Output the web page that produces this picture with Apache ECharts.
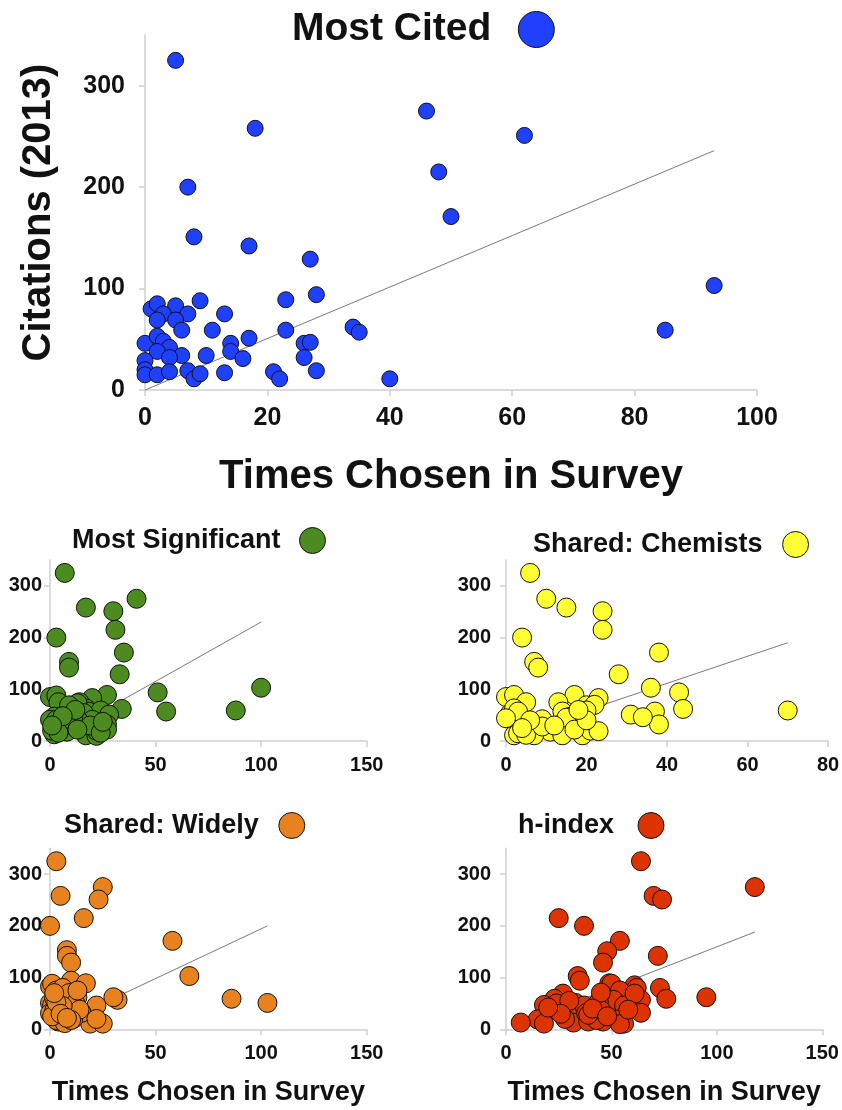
<!DOCTYPE html>
<html><head><meta charset="utf-8">
<script src="https://cdn.jsdelivr.net/npm/echarts@6/dist/echarts.min.js"></script>
<style>html,body{margin:0;padding:0;background:#fff}#c{width:842px;height:1110px}</style>
</head><body><div id="c"></div>
<script>
// ---- data: [times chosen in survey, citations (2013)] ----
const mostCitedPoints = [[5,325],[18,258],[46,275],[48,215],[50,171],[7,200],[8,151],[17,142],[27,129],[28,94],
[23,89],[9,88],[1,80],[2,85],[5,83],[7,75],[3,75],[2,69],[5,69],[13,75],[6,59],[11,59],[23,59],[17,51],[14,46],
[14,38],[0,46],[2,53],[3,48],[4,42],[2,38],[6,34],[4,32],[10,34],[16,31],[26,46],[27,47],[26,32],[34,62],[35,57],
[0,29],[0,20],[0,15],[2,15],[4,18],[7,19],[8,11],[9,16],[13,17],[21,18],[22,11],[28,19],[40,11],[62,251],[93,103],[85,59]];
const mostSignificantPoints = [[7,325],[41,275],[17,258],[30,251],[31,215],[3,200],[35,171],[9,153],[9,142],[33,129],
[100,103],[51,94],[55,57],[88,59],[34,62],[27,89],[20,83],[0,85],[3,88],[4,75],[14,75],[17,63],[18,57],[24,59],[28,51],
[27,32],[27,22],[17,47],[16,40],[10,33],[8,18],[2,47],[0,41],[3,41],[2,13],[17,11],[22,10],[22,20],[6,28],[8,54],
[13,73],[16,54],[20,41],[14,37],[5,37],[9,69],[1,20],[4,16],[11,46],[12,60],[6,48],[19,30],[24,16],[25,37],[13,22],[1,30]];
const sharedChemistsPoints = [[6,325],[10,275],[15,258],[24,251],[24,215],[4,200],[38,171],[7,153],[8,142],[28,129],
[36,103],[43,94],[44,62],[70,59],[37,57],[38,32],[31,51],[34,46],[17,89],[23,83],[20,69],[22,70],[20,59],[13,75],[14,57],
[16,47],[18,33],[14,34],[11,18],[14,11],[19,11],[21,20],[23,19],[9,42],[7,11],[0,85],[2,89],[5,75],[1,47],[2,48],
[5,34],[2,11],[3,15],[5,12],[1,53],[2,63],[3,57],[9,28],[15,45],[12,30],[17,22],[6,40],[0,44],[4,25],[20,40],[18,60]];
const sharedWidelyPoints = [[3,325],[25,275],[5,258],[23,251],[16,215],[0,200],[58,171],[8,153],[8,142],[10,129],
[66,103],[10,94],[17,89],[86,59],[103,51],[32,57],[30,62],[22,46],[19,11],[25,11],[15,32],[13,62],[10,59],[0,83],[1,88],
[3,75],[5,74],[0,51],[1,47],[0,31],[4,15],[6,25],[8,37],[9,32],[12,44],[7,53],[5,64],[2,36],[3,18],[6,80],
[2,60],[4,42],[11,20],[7,12],[1,25],[9,70],[12,50],[14,38],[6,45],[3,52],[10,18],[5,30],[2,70],[8,22],[13,75],[22,20]];
const hIndexPoints = [[64,325],[118,275],[70,258],[74,251],[25,215],[37,200],[54,171],[48,151],[72,142],[46,129],
[34,103],[35,94],[49,89],[50,88],[61,85],[62,80],[73,80],[76,59],[95,62],[54,75],[51,57],[56,46],[64,57],[64,32],[61,69],
[27,69],[23,59],[18,47],[21,38],[15,19],[18,11],[7,13],[29,38],[33,51],[33,32],[32,13],[28,20],[37,46],[38,31],[39,15],
[44,53],[45,37],[45,71],[46,15],[43,18],[53,19],[56,11],[54,10],[24,50],[39,28],[30,55],[41,40],[48,25],[26,30],[58,38],[20,42]];

// trend lines (end points)
const mostCitedTrend = [[0,0],[93,236]];
const mostSignificantTrend = [[2,5],[100,230]];
const sharedChemistsTrend = [[2,12],[70,190]];
const sharedWidelyTrend = [[0,2],[103,200]];
const hIndexTrend = [[7,12],[118,188]];

// tick values
const yTicks = [0,100,200,300];
const xTicksMain = [0,20,40,60,80,100];
const xTicksWide = [0,50,100,150];
const xTicksChem = [0,20,40,60,80];

const FONT = 'Liberation Sans';
const TXT = '#111';

const panels = [
  {name:'Most Cited', pts:mostCitedPoints, trend:mostCitedTrend, color:'#2040ff',
   grid:{left:145,top:35,width:612,height:355}, xTicks:xTicksMain, sym:16,
   tickFont:25, yMargin:20, xMargin:16, xName:'Times Chosen in Survey', xNameFont:40, xNameGap:67,
   yName:'Citations (2013)', yNameFont:40, yNameGap:86,
   legend:{left:292,top:10,size:36,font:39,gap:22}},
  {name:'Most Significant', pts:mostSignificantPoints, trend:mostSignificantTrend, color:'#4b8b1f',
   grid:{left:50,top:560,width:316.7,height:181}, xTicks:xTicksWide, sym:19,
   tickFont:20, yMargin:8, xMargin:14, legend:{left:72,top:527,size:26,font:27,gap:14}},
  {name:'Shared: Chemists', pts:sharedChemistsPoints, trend:sharedChemistsTrend, color:'#ffff33',
   grid:{left:506,top:560,width:322,height:181}, xTicks:xTicksChem, sym:19,
   tickFont:20, yMargin:15, xMargin:14, legend:{left:533,top:531,size:26,font:27,gap:15}},
  {name:'Shared: Widely', pts:sharedWidelyPoints, trend:sharedWidelyTrend, color:'#e8821f',
   grid:{left:50,top:848.3,width:316.7,height:181}, xTicks:xTicksWide, sym:19,
   tickFont:20, yMargin:8, xMargin:14, xName:'Times Chosen in Survey', xNameFont:27, xNameGap:50,
   legend:{left:64,top:812,size:26,font:27,gap:15}},
  {name:'h-index', pts:hIndexPoints, trend:hIndexTrend, color:'#dd3300',
   grid:{left:506,top:848.3,width:316.3,height:181}, xTicks:xTicksWide, sym:19,
   tickFont:20, yMargin:15, xMargin:14, xName:'Times Chosen in Survey', xNameFont:27, xNameGap:50,
   legend:{left:518,top:812,size:26,font:27,gap:19}}
];

const axisLine = {show:true, lineStyle:{color:'#cfcfcf', width:1.5}};
const axisTick = {show:true, length:6, inside:false, lineStyle:{color:'#cfcfcf', width:1.5}};

const option = {
  animation:false,
  backgroundColor:'#fff',
  textStyle:{fontFamily:FONT},
  grid:[], xAxis:[], yAxis:[], series:[], legend:[]
};

panels.forEach((p,i)=>{
  option.grid.push(Object.assign({containLabel:false, outerBoundsMode:'none'}, p.grid));
  const xt = p.xTicks;
  option.xAxis.push({
    type:'value', gridIndex:i, min:xt[0], max:xt[xt.length-1], interval:xt[1]-xt[0],
    axisLine, axisTick, splitLine:{show:false},
    axisLabel:{fontSize:p.tickFont, fontWeight:'bold', color:TXT, fontFamily:FONT, margin:p.xMargin, showMaxLabel:true},
    name:p.xName||'', nameLocation:'middle', nameGap:p.xNameGap||30,
    nameTextStyle:{fontSize:p.xNameFont||20, fontWeight:'bold', color:TXT, fontFamily:FONT}
  });
  option.yAxis.push({
    type:'value', gridIndex:i, min:0, max:350, interval:100,
    axisLine, splitLine:{show:false},
    axisTick:Object.assign({customValues:yTicks}, axisTick),
    axisLabel:{customValues:yTicks, fontSize:p.tickFont, fontWeight:'bold', color:TXT, fontFamily:FONT, margin:p.yMargin},
    name:p.yName||'', nameLocation:'middle', nameGap:p.yNameGap||30, nameRotate:90,
    nameTextStyle:{fontSize:p.yNameFont||20, fontWeight:'bold', color:TXT, fontFamily:FONT}
  });
  option.series.push({
    type:'line', name:p.name+' trend', xAxisIndex:i, yAxisIndex:i, data:p.trend,
    symbol:'none', silent:true, z:1, lineStyle:{color:'#7a7a7a', width:1}
  });
  option.series.push({
    type:'scatter', name:p.name, xAxisIndex:i, yAxisIndex:i, data:p.pts, symbolSize:p.sym, z:3,
    itemStyle:{color:p.color, borderColor:'#111', borderWidth:1, opacity:1}
  });
  option.legend.push({
    data:[p.name], left:p.legend.left, top:p.legend.top, padding:0, align:'right',
    icon:'circle', itemWidth:p.legend.size, itemHeight:p.legend.size, selectedMode:false,
    itemStyle:{color:p.color, borderColor:'#111', borderWidth:1},
    textStyle:{fontSize:p.legend.font, fontWeight:'bold', color:TXT, fontFamily:FONT, padding:[0,p.legend.gap,0,0]}
  });
});

const chart = echarts.init(document.getElementById('c'), null, {renderer:'canvas'});
chart.setOption(option);
</script>
</body></html>
